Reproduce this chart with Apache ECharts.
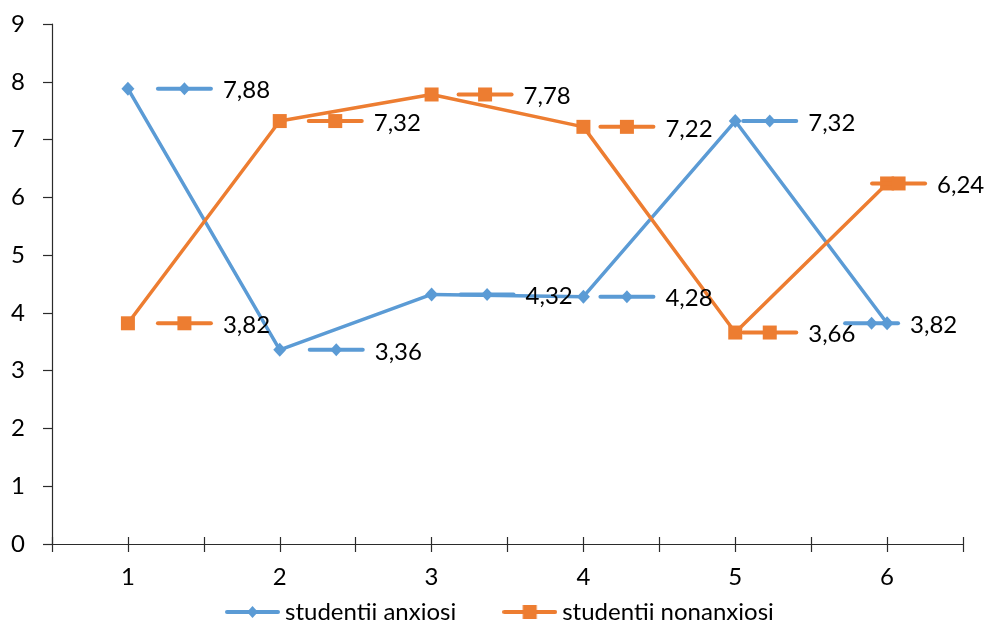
<!DOCTYPE html>
<html>
<head>
<meta charset="utf-8">
<script src="https://cdn.jsdelivr.net/npm/echarts@6/dist/echarts.min.js"></script>
<style>
  html, body { margin: 0; padding: 0; background: #fff; }
  #chart { width: 987px; height: 623px; }
</style>
</head>
<body>
<div id="chart"></div>
<script>
// Test groups on the x axis
const categories = [1, 2, 3, 4, 5, 6];
// Mean scores for each group of students
const anxiosi = [7.88, 3.36, 4.32, 4.28, 7.32, 3.82];
const nonanxiosi = [3.82, 7.32, 7.78, 7.22, 3.66, 6.24];
const seriesNames = ['studentii anxiosi', 'studentii nonanxiosi'];

// Horizontal shift (px) of each data label's key, measured from its point
const anxLabelShift = [30, 30, 29, 17, 8, -42];
const nonLabelShift = [30, 29, 27, 17, 8, -15];

const BLUE = '#5B9BD5';
const ORANGE = '#ED7D31';
const AXIS = '#2b2b2b';
const FONT = 'Lato';
const FS = 24;

const fmt = v => v.toFixed(2).replace('.', ',');
const pairs = vals => categories.map((c, i) => [c, vals[i]]);

// Legend key image: thick line with the series marker in the middle
function keyIcon(color, symbol) {
  const w = 55, h = 14;
  const c = document.createElement('canvas');
  c.width = w; c.height = h;
  const g = c.getContext('2d');
  g.strokeStyle = color; g.fillStyle = color;
  g.lineWidth = 4; g.lineCap = 'round';
  g.beginPath(); g.moveTo(2, h / 2); g.lineTo(w - 2, h / 2); g.stroke();
  const xm = w / 2, ym = h / 2;
  g.beginPath();
  if (symbol === 'diamond') {
    g.moveTo(xm, ym - 6); g.lineTo(xm + 5.5, ym); g.lineTo(xm, ym + 6); g.lineTo(xm - 5.5, ym);
    g.closePath(); g.fill();
  } else {
    g.fillRect(xm - 7, ym - 7, 14, 14);
  }
  return 'image://' + c.toDataURL('image/png');
}

// Data label = short legend key (line + marker) followed by the value
function labelSeries(values, color, symbol, shifts) {
  return {
    type: 'custom',
    coordinateSystem: 'cartesian2d',
    xAxisIndex: 0,
    yAxisIndex: 0,
    z: 10,
    silent: true,
    clip: false,
    data: pairs(values),
    renderItem(params, api) {
      const pt = api.coord([api.value(0), api.value(1)]);
      const x0 = pt[0] + shifts[params.dataIndex];
      const y = pt[1];
      const xm = x0 + 26.5;
      const marker = symbol === 'diamond'
        ? { type: 'polygon', shape: { points: [[xm, y - 6.5], [xm + 6, y], [xm, y + 6.5], [xm - 6, y]] }, style: { fill: color } }
        : { type: 'rect', shape: { x: xm - 7, y: y - 7, width: 14, height: 14 }, style: { fill: color } };
      return {
        type: 'group',
        children: [
          { type: 'line', shape: { x1: x0, y1: y, x2: x0 + 53, y2: y },
            style: { stroke: color, lineWidth: 4, lineCap: 'round' } },
          marker,
          { type: 'text', style: { text: fmt(api.value(1)), x: x0 + 65, y: y + 2,
              align: 'left', verticalAlign: 'middle', fill: '#000',
              fontFamily: FONT, fontSize: FS } }
        ]
      };
    }
  };
}

const xCommon = {
  type: 'value',
  min: 0.5,
  max: 6.5,
  interval: 0.5,
  splitLine: { show: false }
};

const chart = echarts.init(document.getElementById('chart'), null, { renderer: 'canvas' });
chart.setOption({
  animation: false,
  backgroundColor: '#ffffff',
  textStyle: { fontFamily: FONT },
  grid: { left: 52, right: 24, top: 24, bottom: 79, containLabel: false },
  xAxis: [
    Object.assign({}, xCommon, {
      position: 'bottom',
      axisLine: { show: true, lineStyle: { color: AXIS, width: 1.2 } },
      axisTick: { show: true, length: 8, inside: false, lineStyle: { color: AXIS, width: 1.2 } },
      axisLabel: {
        show: true, margin: 21, color: '#000', fontFamily: FONT, fontSize: FS,
        showMinLabel: true, showMaxLabel: true,
        formatter: v => (Number.isInteger(v) && categories.includes(v)) ? String(v) : ''
      }
    }),
    Object.assign({}, xCommon, {
      position: 'bottom',
      axisLine: { show: false },
      axisTick: { show: true, length: 7, inside: true, lineStyle: { color: AXIS, width: 1.2 } },
      axisLabel: { show: false }
    })
  ],
  yAxis: {
    type: 'value',
    min: 0,
    max: 9,
    interval: 1,
    splitLine: { show: false },
    axisLine: { show: true, lineStyle: { color: AXIS, width: 1.2 } },
    axisTick: { show: true, length: 9, inside: false, lineStyle: { color: AXIS, width: 1.2 } },
    axisLabel: { margin: 27, color: '#000', fontFamily: FONT, fontSize: FS }
  },
  legend: {
    data: [
      { name: seriesNames[0], icon: keyIcon(BLUE, 'diamond') },
      { name: seriesNames[1], icon: keyIcon(ORANGE, 'rect') }
    ],
    top: 600,
    left: 225,
    padding: 0,
    itemWidth: 55,
    itemHeight: 14,
    itemGap: 46,
    textStyle: { color: '#000', fontFamily: FONT, fontSize: FS }
  },
  series: [
    {
      name: seriesNames[0], type: 'line', data: pairs(anxiosi),
      symbol: 'diamond', symbolSize: [13, 14], z: 3,
      lineStyle: { color: BLUE, width: 3.5 }, itemStyle: { color: BLUE }
    },
    {
      name: seriesNames[1], type: 'line', data: pairs(nonanxiosi),
      symbol: 'rect', symbolSize: 14, z: 4,
      lineStyle: { color: ORANGE, width: 3.5 }, itemStyle: { color: ORANGE }
    },
    labelSeries(anxiosi, BLUE, 'diamond', anxLabelShift),
    labelSeries(nonanxiosi, ORANGE, 'rect', nonLabelShift)
  ]
});
</script>
</body>
</html>
